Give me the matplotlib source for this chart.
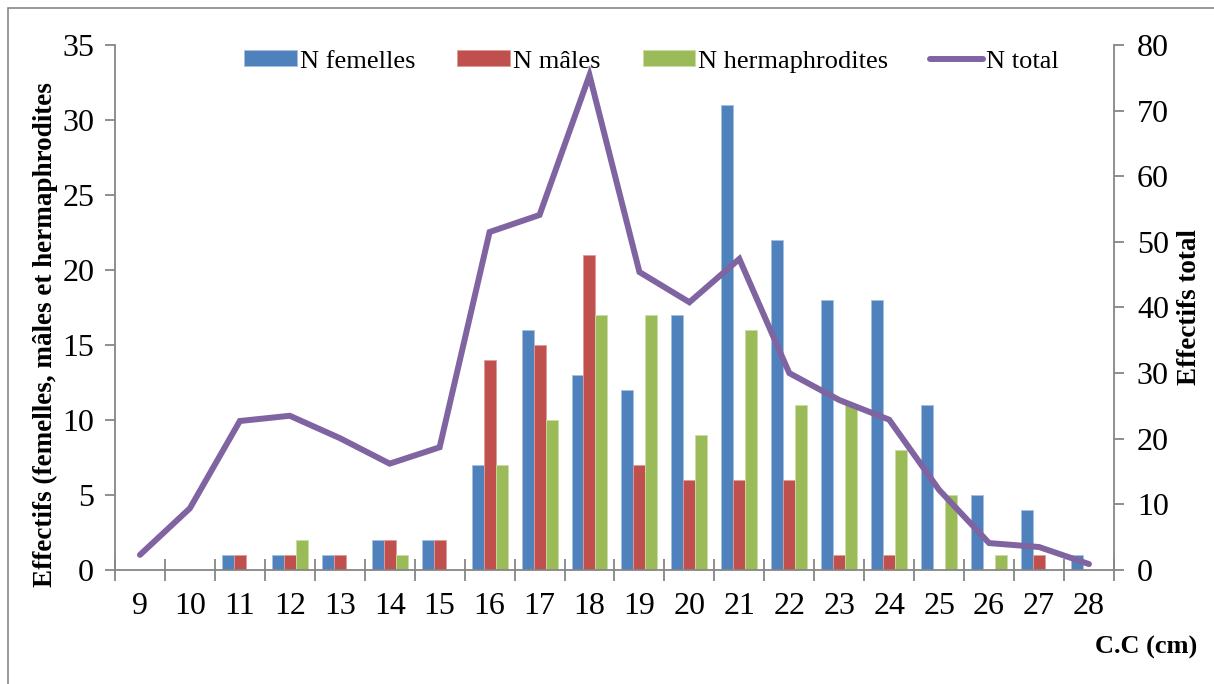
import numpy as np
import matplotlib.pyplot as plt
from matplotlib.patches import Rectangle

plt.rcParams['font.family'] = ['Liberation Serif', 'DejaVu Serif']

# C.C (cm) classes
classes = [9, 10, 11, 12, 13, 14, 15, 16, 17, 18, 19, 20, 21, 22, 23, 24, 25, 26, 27, 28]
femelles = [0, 0, 1, 1, 1, 2, 2, 7, 16, 13, 12, 17, 31, 22, 18, 18, 11, 5, 4, 1]
males = [0, 0, 1, 1, 1, 2, 2, 14, 15, 21, 7, 6, 6, 6, 1, 1, 0, 0, 1, 0]
hermaph = [0, 0, 0, 2, 0, 1, 0, 7, 10, 17, 17, 9, 16, 11, 11, 8, 5, 1, 0, 0]
total = [2.3, 9.4, 22.7, 23.5, 20.1, 16.2, 18.7, 51.5, 54.1, 75.4,
         45.4, 40.8, 47.4, 30.0, 25.9, 22.9, 12.2, 4.1, 3.5, 0.9]

blue = '#4F81BD'
red = '#C0504D'
green = '#9BBB59'
purple = '#8064A2'
axcol = '#868686'

fig = plt.figure(figsize=(12.14, 6.84), dpi=100)
ax = fig.add_axes([0.0947, 0.1667, 0.8229, 0.7675])
x = np.arange(len(classes))
w = 0.24
ax.bar(x - w, femelles, w, color=blue, edgecolor='#A7C0DE', linewidth=0.6, label='N femelles')
ax.bar(x, males, w, color=red, edgecolor='#DE9C9A', linewidth=0.6, label='N mâles')
ax.bar(x + w, hermaph, w, color=green, edgecolor='#C9DCA6', linewidth=0.6, label='N hermaphrodites')

ax2 = ax.twinx()
ax2.plot(x, total, color=purple, linewidth=4.3, solid_capstyle='round',
         solid_joinstyle='miter', label='N total')

ax.set_xlim(-0.5, len(classes) - 0.5)
ax.set_ylim(0, 35)
ax2.set_ylim(0, 80)
ax.set_yticks(range(0, 36, 5))
ax2.set_yticks(range(0, 81, 10))
ax.set_xticks(x)
ax.set_xticklabels([str(c) for c in classes])
ax.set_xticks(np.arange(-0.5, len(classes), 1), minor=True)

for a in (ax, ax2):
    a.spines['top'].set_visible(False)
    for s in ('left', 'right', 'bottom'):
        a.spines[s].set_color(axcol)
        a.spines[s].set_linewidth(1.3)
ax.spines['right'].set_visible(False)
ax2.spines['left'].set_visible(False)
ax2.spines['bottom'].set_visible(False)

ax.tick_params(axis='x', which='major', length=0, labelsize=23, pad=16)
ax.tick_params(axis='x', which='minor', direction='inout', length=16, width=1.3, color=axcol)
ax.tick_params(axis='y', direction='out', length=7, width=1.3, color=axcol, labelsize=23, pad=8)
ax2.tick_params(axis='y', direction='out', length=7, width=1.3, color=axcol, labelsize=23, pad=9.5)

ax.set_ylabel('Effectifs (femelles, mâles et hermaphrodites', fontsize=19.5,
              fontweight='bold')
ax.yaxis.set_label_coords(-0.057, 0.448)
ax2.set_ylabel('Effectifs total', fontsize=19.5, fontweight='bold', labelpad=6)
fig.text(0.944, 0.054, 'C.C (cm)', fontsize=19, fontweight='bold', ha='center', va='center')

h1, l1 = ax.get_legend_handles_labels()
h2, l2 = ax2.get_legend_handles_labels()
ax.legend(h1 + h2, l1 + l2, loc='upper center', bbox_to_anchor=(0.537, 1.035), ncol=4,
          frameon=False, fontsize=19, handlelength=2.0, handleheight=0.55,
          handletextpad=0.1, columnspacing=1.6)

fig.patches.append(Rectangle((0.007, -0.01), 1.1, 0.998, transform=fig.transFigure,
                             fill=False, edgecolor='#888888', linewidth=1.2))

fig.savefig('out.png', dpi=100)
